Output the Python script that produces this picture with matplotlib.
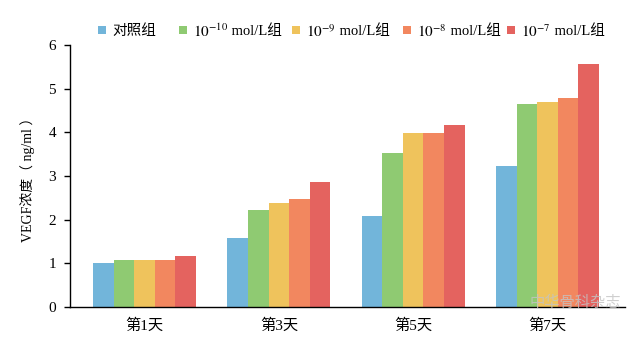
import matplotlib
matplotlib.use("Agg")
import matplotlib.pyplot as plt
from matplotlib.patches import Rectangle
import numpy as np

plt.rcParams['font.family'] = ['Liberation Serif', 'Noto Sans CJK SC']
plt.rcParams['mathtext.fontset'] = 'stix'

days = ['第1天', '第3天', '第5天', '第7天']
# legend labels: (power-of-ten part, rest of the label)
label_powers = ['', '$10^{-10}$', '$10^{-9}$', '$10^{-8}$', '$10^{-7}$']
label_rest = ['对照组', ' mol/L组', ' mol/L组', ' mol/L组', ' mol/L组']
control = [1.00, 1.57, 2.08, 3.22]
conc_1e10 = [1.08, 2.22, 3.52, 4.65]
conc_1e9 = [1.08, 2.38, 3.98, 4.70]
conc_1e8 = [1.08, 2.48, 3.98, 4.78]
conc_1e7 = [1.17, 2.87, 4.17, 5.57]
yticks = [0, 1, 2, 3, 4, 5, 6]

series = [control, conc_1e10, conc_1e9, conc_1e8, conc_1e7]
colors = ['#72b5da', '#8fca72', '#efc35c', '#f2875f', '#e4635f']

W, H = 644, 341
fig = plt.figure(figsize=(W / 100, H / 100), dpi=100)
ax = fig.add_axes([70 / W, 34 / H, 555 / W, 262 / H])

x = np.arange(len(days))
w = 0.153
for i, (vals, c) in enumerate(zip(series, colors)):
    ax.bar(x + (i - 2) * w, vals, width=w, color=c, linewidth=0)

ax.set_xlim(-0.555, 3.577)
ax.set_ylim(0, 6)
ax.set_yticks(yticks)
ax.set_xticks(x)
ax.set_xticklabels(days, fontsize=11)
ax.tick_params(axis='x', length=0, pad=8)
ax.tick_params(axis='y', labelsize=11, length=4, width=1, pad=6)
for s in ['top', 'right']:
    ax.spines[s].set_visible(False)
ax.spines['left'].set_linewidth(1)
ax.spines['bottom'].set_linewidth(1)
ax.set_ylabel('VEGF浓度（ ng/ml ）', fontsize=10, labelpad=10)

# hand-placed legend row along the top
legend_x = [98, 179, 292, 403, 507]
legend_y = 30
sq = 8
renderer = fig.canvas.get_renderer()
for lx, c, pw, rest in zip(legend_x, colors, label_powers, label_rest):
    fig.patches.append(Rectangle(((lx) / W, (H - legend_y - sq / 2) / H),
                                 sq / W, sq / H, transform=fig.transFigure,
                                 facecolor=c, edgecolor='none'))
    tx = lx + sq + 6
    if pw:
        t = fig.text(tx / W, (H - legend_y) / H, pw, fontsize=11,
                     va='center_baseline', ha='left')
        tx = t.get_window_extent(renderer).x1
    fig.text(tx / W, (H - legend_y) / H, rest, fontsize=10.5,
             va='center_baseline', ha='left')

fig.text(0.965, 1 - 303 / H, '中华骨科杂志', fontsize=11, color='#c4c4c4',
         ha='right', va='center', alpha=0.8, family='Noto Sans CJK SC')

fig.savefig('out.png', dpi=100)
